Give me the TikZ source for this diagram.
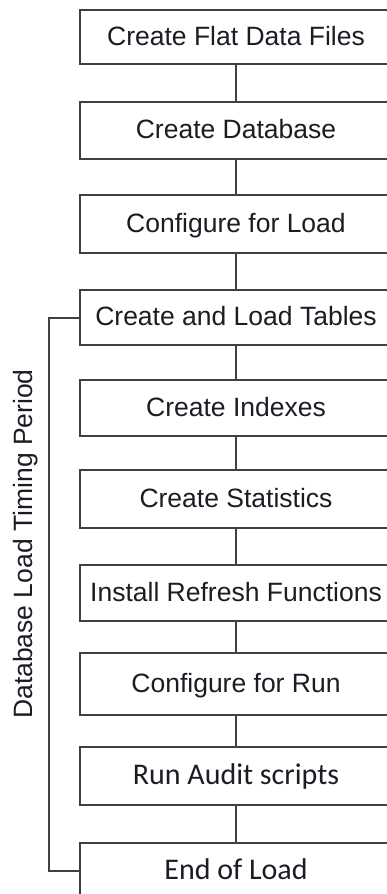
\documentclass[tikz,border=0pt]{standalone}
\usepackage{fontspec}
\setmainfont{Liberation Sans}
\newfontfamily\calfont{Carlito}
\definecolor{linegray}{RGB}{64,64,64}
\definecolor{textdark}{RGB}{28,28,36}
\tikzset{
  stepbox/.style={draw=linegray, line width=2pt, rectangle, minimum width=312pt,
    inner sep=0pt, text height=20pt, text depth=4pt, text=textdark,
    font=\fontsize{26.5}{30}\selectfont},
  calbox/.style={stepbox, font=\calfont\fontsize{30}{34}\selectfont},
  link/.style={draw=linegray, line width=2pt}
}
\begin{document}
\begin{tikzpicture}[x=1pt,y=-1pt]
\fill[white] (0,0) rectangle (387,894);
\clip (0,0) rectangle (387,894);
\node[stepbox, minimum height=54pt] (b1) at (236,37) {Create Flat Data Files};
\node[stepbox, minimum height=57pt] (b2) at (236,130.5) {Create Database};
\node[stepbox, minimum height=58pt] (b3) at (236,224) {Configure for Load};
\node[stepbox, minimum height=55pt] (b4) at (236,317.5) {Create and Load Tables};
\node[stepbox, minimum height=56pt] (b5) at (236,408) {Create Indexes};
\node[stepbox, minimum height=58pt] (b6) at (236,499) {Create Statistics};
\node[stepbox, minimum height=56pt] (b7) at (236,593) {Install Refresh Functions};
\node[stepbox, minimum height=62pt] (b8) at (236,684) {Configure for Run};
\node[calbox, minimum height=58pt] (b9) at (236,776) {Run Audit scripts};
\node[calbox, minimum height=56pt] (b10) at (236,871) {End of Load};
\draw[link] (b1) -- (b2);
\draw[link] (b2) -- (b3);
\draw[link] (b3) -- (b4);
\draw[link] (b4) -- (b5);
\draw[link] (b5) -- (b6);
\draw[link] (b6) -- (b7);
\draw[link] (b7) -- (b8);
\draw[link] (b8) -- (b9);
\draw[link] (b9) -- (b10);
\draw[link] (b4.west) -- ++(-30,0) |- (b10.west);
\node[rotate=90, anchor=base, inner sep=0pt, text=textdark,
  font=\fontsize{26.5}{30}\selectfont] (lbl) at (32,544) {Database Load Timing Period};
\end{tikzpicture}
\end{document}
